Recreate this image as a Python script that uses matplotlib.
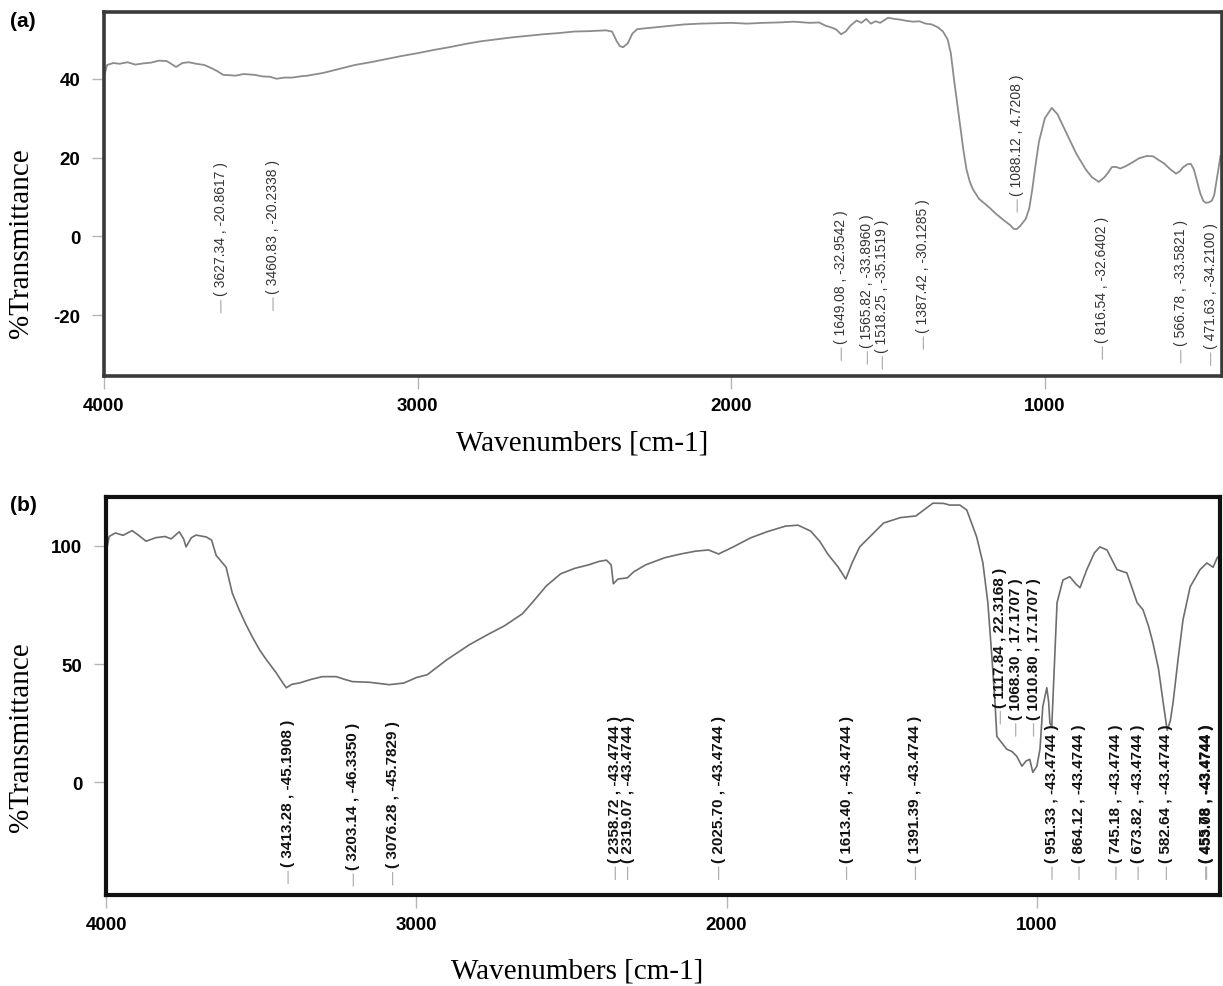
import matplotlib
matplotlib.use('Agg')
import matplotlib.pyplot as plt

# (a) spectrum
wn_a = [4000, 3990, 3970, 3950, 3925, 3900, 3875, 3850, 3825, 3800, 3780, 3770,
        3750, 3730, 3705, 3680, 3660, 3640, 3620, 3600, 3580, 3555, 3520, 3495,
        3470, 3450, 3425, 3400, 3375, 3350, 3300, 3250, 3200, 3150, 3100, 3050,
        3000, 2950, 2900, 2850, 2800, 2750, 2700, 2650, 2600, 2550, 2500, 2450,
        2400, 2380, 2365, 2355, 2345, 2330, 2315, 2300, 2250, 2200, 2150, 2100,
        2050, 2000, 1950, 1900, 1850, 1800, 1750, 1720, 1700, 1680, 1665, 1650,
        1635, 1620, 1600, 1585, 1570, 1555, 1540, 1525, 1510, 1500, 1480, 1460,
        1440, 1420, 1400, 1380, 1360, 1340, 1325, 1310, 1300, 1290, 1280, 1270,
        1260, 1250, 1240, 1230, 1210, 1180, 1156, 1130, 1110, 1100, 1090, 1080,
        1061, 1050, 1040, 1030, 1019, 1000, 978, 960, 945, 930, 915, 900, 885,
        870, 850, 828, 810, 800, 786, 772, 760, 742, 720, 700, 675, 655, 640,
        620, 600, 582, 570, 560, 545, 535, 525, 515, 505, 495, 487, 478, 468,
        460, 455, 448, 440]
t_a = [40.5, 43.5, 44.0, 43.8, 44.2, 43.6, 43.9, 44.1, 44.6, 44.5, 43.5, 43.0,
       44.0, 44.2, 43.8, 43.5, 42.8, 42.0, 41.0, 40.9, 40.8, 41.2, 41.0, 40.6,
       40.5, 40.0, 40.3, 40.3, 40.6, 40.8, 41.5, 42.5, 43.5, 44.2, 45.0, 45.8,
       46.5, 47.3, 48.0, 48.8, 49.5, 50.0, 50.5, 50.9, 51.3, 51.6, 52.0, 52.1,
       52.3, 52.0, 49.5, 48.3, 48.0, 49.0, 51.5, 52.6, 53.0, 53.4, 53.8, 54.0,
       54.1, 54.2, 54.0, 54.2, 54.3, 54.5, 54.2, 54.3, 53.5, 53.0, 52.5, 51.3,
       52.0, 53.5, 54.8, 54.2, 55.2, 54.0, 54.6, 54.2, 55.0, 55.5, 55.2, 55.0,
       54.7, 54.5, 54.6, 54.0, 53.8, 53.0, 52.0, 50.0, 46.5, 40.0, 34.0, 28.0,
       22.0, 17.0, 14.0, 12.0, 9.5, 7.5, 5.7, 4.0, 2.8, 1.9, 1.8, 2.5,
       4.4, 7.0, 12.0, 18.0, 24.0, 30.0, 32.6, 31.0, 28.5, 26.0, 23.5, 21.0, 19.0,
       17.0, 15.0, 13.8, 15.0, 16.0, 17.6, 17.6, 17.2, 17.8, 18.8, 19.8, 20.4, 20.3,
       19.5, 18.5, 17.0, 15.9, 16.5, 17.5, 18.3, 18.4, 17.0, 14.0, 11.0, 9.0, 8.5,
       8.6, 9.0, 10.5, 13.0, 16.5, 20.4]

# (b) spectrum
wn_b = [4000, 3990, 3970, 3945, 3916, 3895, 3871, 3840, 3810, 3790, 3764, 3750,
        3742, 3725, 3710, 3677, 3660, 3645, 3613, 3593, 3571, 3550, 3529, 3505,
        3484, 3452, 3430, 3419, 3400, 3377, 3340, 3303, 3258, 3230, 3206, 3150,
        3087, 3040, 3000, 2965, 2900, 2829, 2770, 2716, 2658, 2620, 2581, 2535,
        2490, 2445, 2410, 2387, 2372, 2365, 2350, 2320, 2300, 2261, 2200, 2148,
        2100, 2058, 2026, 1980, 1923, 1870, 1810, 1770, 1729, 1700, 1674, 1640,
        1616, 1595, 1571, 1530, 1494, 1440, 1390, 1335, 1300, 1281, 1248, 1226,
        1194, 1174, 1158, 1145, 1135, 1129, 1115, 1097, 1080, 1065, 1048, 1035,
        1023, 1013, 1000, 990, 981, 968, 962, 958, 952, 945, 935, 916, 894, 875,
        861, 839, 815, 797, 774, 742, 710, 677, 658, 640, 626, 608, 593, 580,
        570, 561, 545, 529, 506, 474, 452, 432, 419, 410]
t_b = [97.0, 104.0, 105.5, 104.5, 106.5, 104.5, 102.0, 103.5, 104.0, 103.0, 106.0, 103.0,
       99.6, 103.5, 104.6, 103.8, 102.5, 96.0, 91.0, 80.0, 73.0, 67.0, 61.6, 56.0,
       52.0, 46.4, 42.0, 40.0, 41.5, 42.0, 43.5, 44.7, 44.7, 43.5, 42.6, 42.3,
       41.3, 42.0, 44.3, 45.5, 52.0, 58.2, 62.5, 66.2, 71.3, 77.0, 83.1, 88.2,
       90.5, 92.0, 93.5, 94.0, 92.0, 84.0, 86.0, 86.5, 89.0, 92.0, 95.0, 96.6,
       97.8, 98.3, 96.6, 99.5, 103.4, 106.0, 108.4, 108.8, 106.3, 102.0, 96.6, 91.0,
       86.0, 93.0, 99.6, 105.0, 109.7, 112.0, 112.7, 118.1, 118.0, 117.3, 117.3, 115.2,
       103.8, 92.8, 76.0, 53.0, 33.8, 19.4, 17.0, 14.0, 13.0, 11.0, 6.8, 9.0,
       9.7, 4.2, 6.8, 14.0, 32.0, 40.0, 34.0, 25.0, 23.6, 45.0, 76.0, 85.6, 87.0, 84.0,
       82.3, 90.0, 97.0, 99.6, 98.3, 90.0, 88.6, 76.0, 73.0, 66.0, 59.0, 48.0, 33.8, 22.0,
       26.0, 33.8, 52.0, 68.8, 82.7, 90.0, 92.8, 91.0, 95.0, 96.0]

# peak-picking results printed by the instrument software
peaks_a = [3627.34, 3460.83, 1649.08, 1565.82, 1518.25, 1387.42, 1088.12,
           816.54, 566.78, 471.63]
peak_t_a = [-20.8617, -20.2338, -32.9542, -33.8960, -35.1519, -30.1285, 4.7208,
            -32.6402, -33.5821, -34.2100]

peaks_b = [3413.28, 3203.14, 3076.28, 2358.72, 2319.07, 2025.70, 1613.40, 1391.39,
           1117.84, 1068.30, 1010.80, 951.33, 864.12, 745.18, 673.82, 582.64,
           455.78, 453.08]
peak_t_b = [-45.1908, -46.3350, -45.7829, -43.4744, -43.4744, -43.4744, -43.4744,
            -43.4744, 22.3168, 17.1707, 17.1707, -43.4744, -43.4744, -43.4744,
            -43.4744, -43.4744, -43.4744, -43.4744]

narrow = ['Liberation Sans Narrow', 'Liberation Sans', 'DejaVu Sans']
serif = ['Liberation Serif', 'DejaVu Serif']

plt.rcParams['font.family'] = ['Liberation Sans', 'DejaVu Sans']
plt.rcParams['axes.unicode_minus'] = False


def mark_peaks(ax, peaks, vals, size, weight, color):
    for w, v in zip(peaks, vals):
        ax.annotate('', xy=(w, v), xytext=(0, 18), textcoords='offset pixels',
                    arrowprops=dict(arrowstyle='-', color='#b0b0b0', lw=0.9,
                                    shrinkA=0, shrinkB=4))
        ax.annotate(f'( {w:.2f} , {v:.4f} )', xy=(w, v), xytext=(0, 23),
                    textcoords='offset pixels', rotation=90, ha='center',
                    va='bottom', fontsize=size, family=narrow,
                    fontweight=weight, color=color)


def style_axes(ax, spine_color, spine_width):
    for s in ax.spines.values():
        s.set_color(spine_color)
        s.set_linewidth(spine_width)
    ax.tick_params(axis='both', length=9, width=1, color='#b5b5b5',
                   labelsize=13.5)
    ax.tick_params(axis='y', pad=8)
    ax.tick_params(axis='x', pad=6)
    for lab in ax.get_xticklabels() + ax.get_yticklabels():
        lab.set_fontweight('bold')


fig = plt.figure(figsize=(12.23, 9.87), dpi=100)

ax1 = fig.add_axes([0.085, 0.618, 0.914, 0.369])
ax1.plot(wn_a, t_a, color='#8c8c8c', lw=1.3)
ax1.set_xlim(4000, 436)
ax1.set_ylim(-35.5, 57)
ax1.set_xticks([4000, 3000, 2000, 1000])
ax1.set_yticks([-20, 0, 20, 40])
style_axes(ax1, '#3a3a3a', 2.6)
mark_peaks(ax1, peaks_a, peak_t_a, 10, 'normal', '#333333')
ax1.set_xlabel('Wavenumbers [cm-1]', family=serif, fontsize=21)
ax1.set_ylabel('%Transmittance', family=serif, fontsize=21)
ax1.xaxis.set_label_coords(0.428, -0.146)
ax1.yaxis.set_label_coords(-0.063, 0.368)
fig.text(0.008, 0.978, '(a)', fontsize=15, fontweight='bold', va='center')

ax2 = fig.add_axes([0.0867, 0.0922, 0.9108, 0.4032])
ax2.plot(wn_b, t_b, color='#6e6e6e', lw=1.2)
ax2.set_xlim(4000, 410)
ax2.set_ylim(-47.7, 120.7)
ax2.set_xticks([4000, 3000, 2000, 1000])
ax2.set_yticks([0, 50, 100])
style_axes(ax2, '#111111', 3.0)
mark_peaks(ax2, peaks_b, peak_t_b, 11, 'bold', '#111111')
ax2.set_xlabel('Wavenumbers [cm-1]', family=serif, fontsize=21)
ax2.set_ylabel('%Transmittance', family=serif, fontsize=21)
ax2.xaxis.set_label_coords(0.423, -0.156)
ax2.yaxis.set_label_coords(-0.065, 0.40)
fig.text(0.008, 0.488, '(b)', fontsize=15, fontweight='bold', va='center')

fig.savefig('out.png', dpi=100)
